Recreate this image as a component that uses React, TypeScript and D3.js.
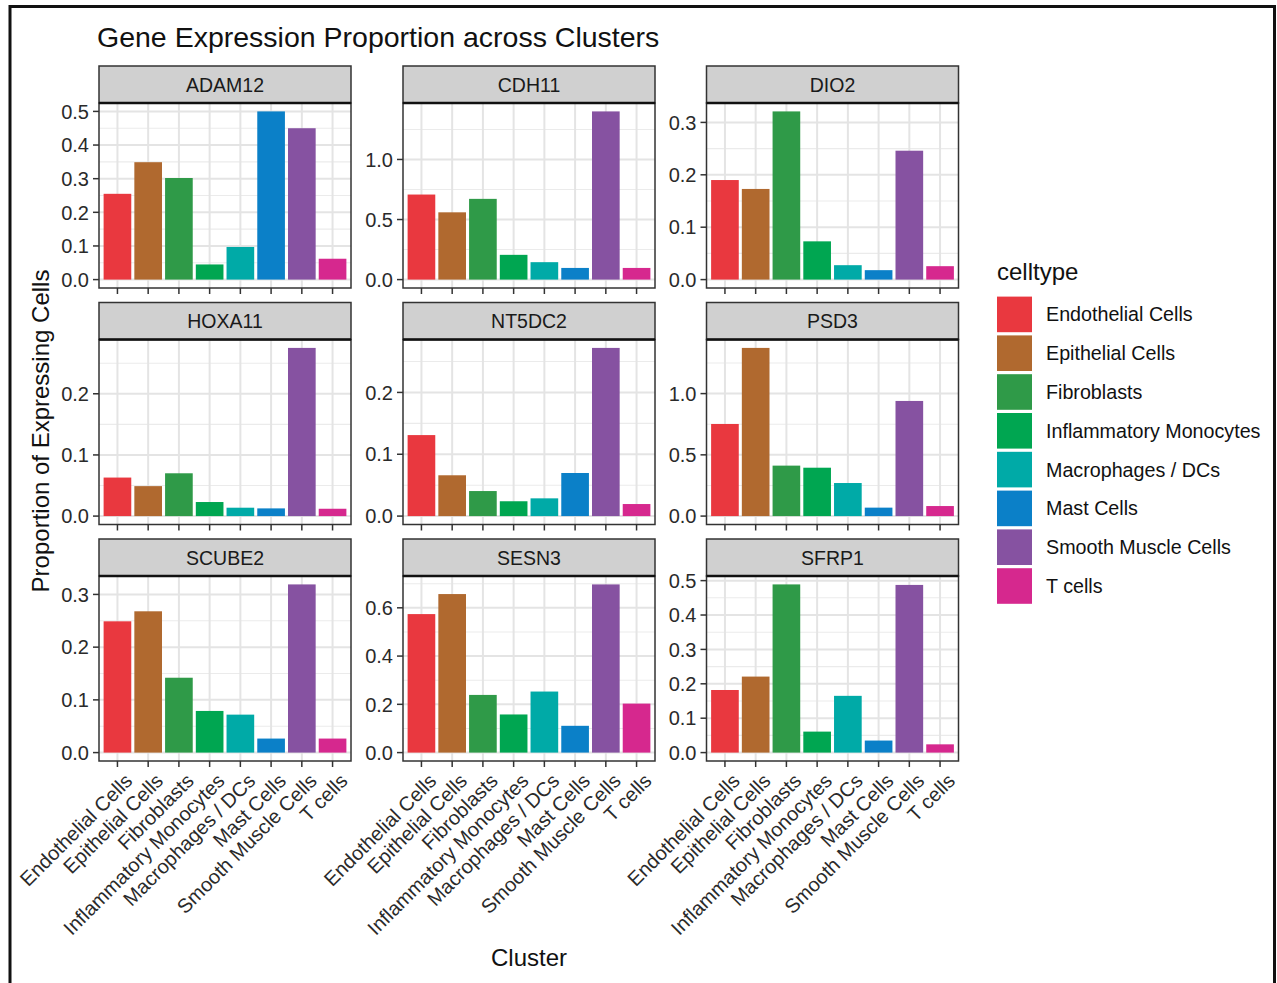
import * as d3 from 'd3'

const cellTypes = [
  'Endothelial Cells',
  'Epithelial Cells',
  'Fibroblasts',
  'Inflammatory Monocytes',
  'Macrophages / DCs',
  'Mast Cells',
  'Smooth Muscle Cells',
  'T cells',
]
const cellColors = ['#E9383F', '#B0692F', '#2F9A48', '#00A651', '#00AAA7', '#0B80C8', '#8652A1', '#D6288E']

const genes = ['ADAM12', 'CDH11', 'DIO2', 'HOXA11', 'NT5DC2', 'PSD3', 'SCUBE2', 'SESN3', 'SFRP1']

// proportion per cell type, same order as cellTypes
const adam12 = [0.255, 0.349, 0.302, 0.045, 0.097, 0.5, 0.45, 0.062]
const cdh11 = [0.708, 0.56, 0.672, 0.206, 0.145, 0.097, 1.4, 0.097]
const dio2 = [0.19, 0.173, 0.321, 0.073, 0.0275, 0.018, 0.246, 0.0256]
const hoxa11 = [0.063, 0.049, 0.07, 0.023, 0.0137, 0.0126, 0.275, 0.012]
const nt5dc2 = [0.131, 0.066, 0.0405, 0.024, 0.0287, 0.0697, 0.272, 0.0195]
const psd3 = [0.752, 1.373, 0.412, 0.395, 0.27, 0.069, 0.94, 0.082]
const scube2 = [0.249, 0.268, 0.142, 0.079, 0.072, 0.0266, 0.319, 0.0266]
const sesn3 = [0.574, 0.657, 0.239, 0.158, 0.253, 0.111, 0.697, 0.203]
const sfrp1 = [0.182, 0.221, 0.489, 0.061, 0.165, 0.035, 0.4875, 0.024]
const geneValues = [adam12, cdh11, dio2, hoxa11, nt5dc2, psd3, scube2, sesn3, sfrp1]

// y breaks per facet
const yBreaks = [
  [0, 0.1, 0.2, 0.3, 0.4, 0.5],
  [0, 0.5, 1.0],
  [0, 0.1, 0.2, 0.3],
  [0, 0.1, 0.2],
  [0, 0.1, 0.2],
  [0, 0.5, 1.0],
  [0, 0.1, 0.2, 0.3],
  [0, 0.2, 0.4, 0.6],
  [0, 0.1, 0.2, 0.3, 0.4, 0.5],
]

const font = 'Liberation Sans, Arial, Helvetica, sans-serif'
const colLeft = [99, 403, 706.5]
const stripTop = [66, 302.5, 539]
const panelW = 252
const stripH = 37
const panelH = 185
const fmt = d3.format('.1f')

const Facet = ({ i }: { i: number }) => {
  const x0 = colLeft[i % 3]
  const sTop = stripTop[Math.floor(i / 3)]
  const pTop = sTop + stripH
  const pBottom = pTop + panelH
  const values = geneValues[i]
  const max = d3.max(values) as number
  const breaks = yBreaks[i]

  const xScale = d3
    .scaleBand()
    .domain(cellTypes)
    .range([x0, x0 + panelW])
    .paddingInner(0.1)
    .paddingOuter(0.15)
  const yScale = d3
    .scaleLinear()
    .domain([-0.05 * max, 1.05 * max])
    .range([pBottom, pTop])

  // minor grid halfway between breaks, like ggplot
  const [lo, hi] = yScale.domain()
  const bStep = breaks[1] - breaks[0]
  const minor: number[] = []
  for (let k = -1; k < breaks.length; k++) {
    const m = k < 0 ? breaks[0] - bStep / 2 : breaks[k] + bStep / 2
    if (m > lo && m < hi) minor.push(m)
  }
  const showX = Math.floor(i / 3) === 2
  const center = (c: string) => (xScale(c) as number) + xScale.bandwidth() / 2

  return (
    <g>
      <rect x={x0} y={pTop} width={panelW} height={panelH} fill="white" />
      {minor.map((m) => (
        <line key={'mi' + m} x1={x0} x2={x0 + panelW} y1={yScale(m)} y2={yScale(m)} stroke="#ebebeb" strokeWidth={1.1} />
      ))}
      {breaks.map((b) => (
        <line key={'ma' + b} x1={x0} x2={x0 + panelW} y1={yScale(b)} y2={yScale(b)} stroke="#e4e4e4" strokeWidth={2} />
      ))}
      {cellTypes.map((c) => (
        <line key={'vx' + c} x1={center(c)} x2={center(c)} y1={pTop} y2={pBottom} stroke="#e4e4e4" strokeWidth={2} />
      ))}
      {values.map((v, j) => (
        <rect
          key={cellTypes[j]}
          x={xScale(cellTypes[j])}
          width={xScale.bandwidth()}
          y={yScale(v)}
          height={yScale(0) - yScale(v)}
          fill={cellColors[j]}
        />
      ))}
      <rect x={x0} y={pTop} width={panelW} height={panelH} fill="none" stroke="#333" strokeWidth={1.5} />
      <rect x={x0} y={sTop} width={panelW} height={stripH} fill="#d0d0d0" stroke="#333" strokeWidth={1.5} />
      <line x1={x0} x2={x0 + panelW} y1={pTop} y2={pTop} stroke="#111" strokeWidth={2.5} />
      <text x={x0 + panelW / 2} y={sTop + stripH / 2 + 7} textAnchor="middle" fontSize={19.5} fill="#1a1a1a">
        {genes[i]}
      </text>
      {breaks.map((b) => (
        <g key={'yt' + b} transform={`translate(${x0}, ${yScale(b)})`}>
          <line x1={-6} x2={0} stroke="#333" strokeWidth={1.5} />
          <text x={-10} dy="0.36em" textAnchor="end" fontSize={20} fill="#2a2a2a">
            {fmt(b)}
          </text>
        </g>
      ))}
      {cellTypes.map((c) => (
        <line key={'xt' + c} x1={center(c)} x2={center(c)} y1={pBottom} y2={pBottom + 6} stroke="#333" strokeWidth={1.5} />
      ))}
      {showX &&
        cellTypes.map((c) => (
          <text
            key={'xl' + c}
            transform={`translate(${center(c) + 6}, ${pBottom + 11}) rotate(-45)`}
            dy="0.72em"
            textAnchor="end"
            fontSize={20}
            fill="#2a2a2a"
          >
            {c}
          </text>
        ))}
    </g>
  )
}

const App = () => {
  const keyStep = 38.8
  const keyTop = 295
  return (
    <svg
      width={1277}
      height={983}
      style={{ position: 'absolute', left: 0, top: 0, fontFamily: font }}
    >
      <rect x={0} y={0} width={1277} height={983} fill="white" />
      {genes.map((g, i) => (
        <Facet key={g} i={i} />
      ))}
      <rect x={0} y={0} width={10} height={983} fill="white" />
      <rect x={10} y={6.5} width={1264.5} height={1000} fill="none" stroke="#111" strokeWidth={3} />
      <text x={97} y={46.5} fontSize={28.5} fill="#111">
        Gene Expression Proportion across Clusters
      </text>
      <text transform="translate(49, 431) rotate(-90)" textAnchor="middle" fontSize={24} fill="#111">
        Proportion of Expressing Cells
      </text>
      <text x={529} y={966} textAnchor="middle" fontSize={24} fill="#111">
        Cluster
      </text>
      <text x={997} y={280} fontSize={24} fill="#111">
        celltype
      </text>
      {cellTypes.map((c, j) => (
        <g key={'lg' + c} transform={`translate(997, ${keyTop + j * keyStep})`}>
          <rect x={0} y={1.6} width={35} height={35.6} fill={cellColors[j]} />
          <text x={49} y={keyStep / 2} dy="0.36em" fontSize={19.7} fill="#111">
            {c}
          </text>
        </g>
      ))}
    </svg>
  )
}

export default App
